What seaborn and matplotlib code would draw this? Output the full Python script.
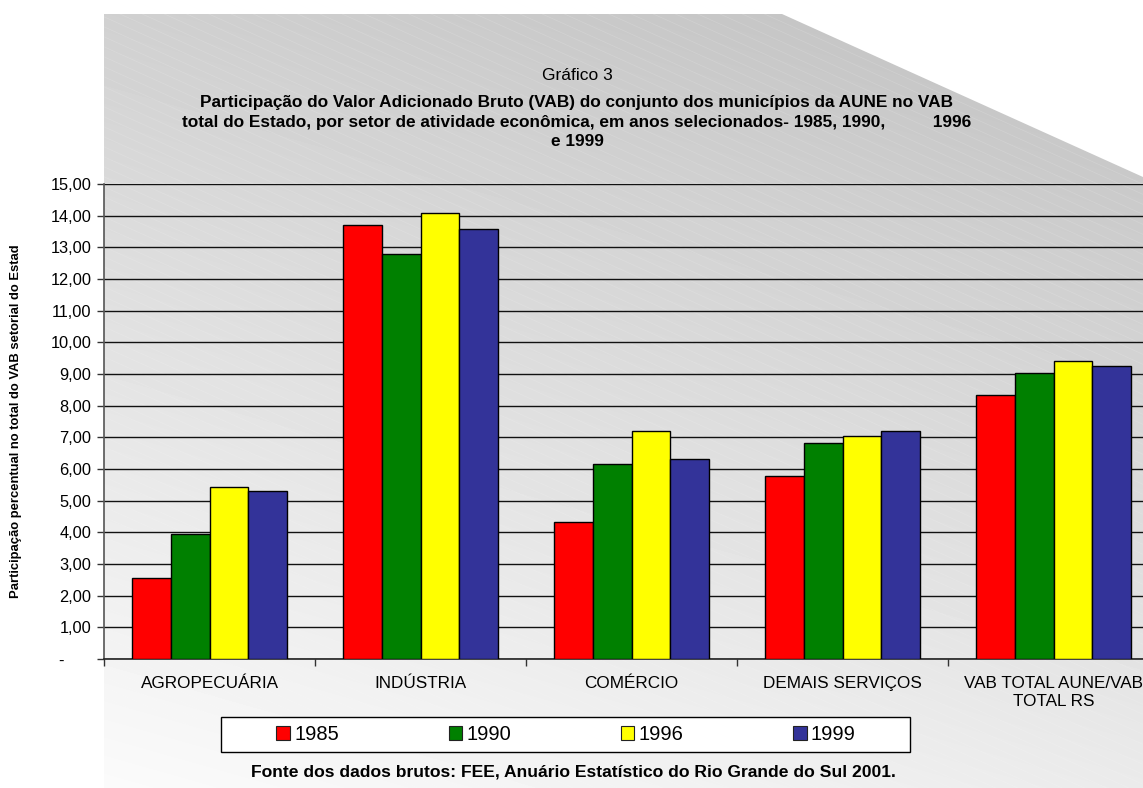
import numpy as np
import pandas as pd
import matplotlib
matplotlib.use("Agg")
import matplotlib.pyplot as plt
from matplotlib.patches import Polygon, Patch, Rectangle
import seaborn as sns

# ---- data -------------------------------------------------------------
setores = ["AGROPECUÁRIA", "INDÚSTRIA", "COMÉRCIO", "DEMAIS SERVIÇOS",
           "VAB TOTAL AUNE/VAB\nTOTAL RS"]
anos = ["1985", "1990", "1996", "1999"]
v1985 = [2.57, 13.70, 4.33, 5.77, 8.34]
v1990 = [3.95, 12.78, 6.16, 6.82, 9.02]
v1996 = [5.44, 14.07, 7.21, 7.03, 9.41]
v1999 = [5.31, 13.57, 6.31, 7.20, 9.24]
cores = ["#FF0000", "#008000", "#FFFF00", "#333399"]
yticks = list(range(0, 16))
# accounting-style zero: a dash set in from the right edge
ytick_labels = ["-      "] + [f"{v},00" for v in yticks[1:]]

df = pd.DataFrame({
    "setor": setores * 4,
    "ano": [a for a in anos for _ in setores],
    "valor": v1985 + v1990 + v1996 + v1999,
})

sns.set_theme(style="white")
plt.rcParams["font.family"] = ["Liberation Sans", "DejaVu Sans"]
plt.rcParams["text.color"] = "black"
plt.rcParams["axes.labelcolor"] = "black"
plt.rcParams["xtick.color"] = "black"
plt.rcParams["ytick.color"] = "black"

W, H = 1143, 788
fig = plt.figure(figsize=(W / 100, H / 100), dpi=100)
fig.patch.set_facecolor("white")

# ---- shaded chart-area background --------------------------------------
bg = fig.add_axes([0, 0, 1, 1], zorder=0)
bg.set_xlim(0, W)
bg.set_ylim(H, 0)
bg.axis("off")
yy, xx = np.mgrid[0:H, 0:W]
shade = 0.99 - 0.17 * (1 - yy / H) - 0.07 * (xx / W)
img = bg.imshow(shade, cmap="gray", vmin=0, vmax=1, extent=[0, W, H, 0],
                aspect="auto", interpolation="bilinear")
area = Polygon([(104, 14), (782, 14), (W, 177), (W, H), (104, H)],
               closed=True, facecolor="none", edgecolor="none")
bg.add_patch(area)
img.set_clip_path(area)
for c in np.arange(-600, H + 40, 10):
    ln, = bg.plot([0, W], [c, c + 0.45 * W], color="white", lw=0.5, alpha=0.16)
    ln.set_clip_path(area)

# ---- bars --------------------------------------------------------------
ax = fig.add_axes([104 / W, (H - 659) / H, (1159 - 104) / W, (659 - 184) / H],
                  zorder=1)
ax.patch.set_alpha(0)
sns.barplot(data=df, x="setor", y="valor", hue="ano", palette=cores,
            width=0.735, saturation=1, edgecolor="black", linewidth=1.0,
            legend=False, ax=ax, zorder=3)

ax.set_ylim(0, 15)
ax.set_xlim(-0.5, 4.5)
ax.set_yticks(yticks)
ax.set_yticklabels(ytick_labels, fontsize=11.8, color="black")
ax.tick_params(axis="y", direction="out", length=5, width=1, color="#333333",
               pad=4, left=True)
ax.set_xticks(range(len(setores)))
ax.set_xticklabels(setores, fontsize=12.3, color="black", linespacing=1.3)
ax.tick_params(axis="x", which="major", length=0, pad=12, bottom=False)
ax.set_xticks(np.arange(-0.5, len(setores), 1), minor=True)
ax.tick_params(axis="x", which="minor", direction="out", length=5, width=1,
               color="#333333", bottom=True)
ax.yaxis.grid(True, color="#111111", lw=1.0)
ax.set_axisbelow(True)
for s in ["top", "right"]:
    ax.spines[s].set_visible(False)
ax.spines["left"].set_color("#555555")
ax.spines["left"].set_linewidth(1.2)
ax.spines["bottom"].set_color("#222222")
ax.spines["bottom"].set_linewidth(1.2)
ax.set_xlabel("")
ax.set_ylabel("Participação percentual no total do VAB setorial do Estad",
              fontsize=9.4, fontweight="bold", color="black")
ax.yaxis.set_label_coords((22 - 104) / 1055, 0.5)

# ---- titles ------------------------------------------------------------
cx = 577 / W
fig.text(cx, 1 - 75 / H, "Gráfico 3", ha="center", va="center", fontsize=12.5,
         color="black")
titulo = [
    "Participação do Valor Adicionado Bruto (VAB) do conjunto dos municípios da AUNE no VAB",
    "total do Estado, por setor de atividade econômica, em anos selecionados- 1985, 1990,          1996",
    "e 1999",
]
for i, t in enumerate(titulo):
    fig.text(cx, 1 - (102 + 20 * i) / H, t, ha="center", va="center",
             fontsize=12.4, fontweight="bold", color="black")

# ---- legend ------------------------------------------------------------
box = Rectangle((221 / W, 1 - 752 / H), (910 - 221) / W, (752 - 717) / H,
                transform=fig.transFigure, facecolor="white",
                edgecolor="black", lw=1.0, zorder=2)
fig.patches.append(box)
handles = [Patch(facecolor=c, edgecolor="#222222", lw=0.8) for c in cores]
leg = fig.legend(handles, anos, loc="center",
                 bbox_to_anchor=(566 / W, 1 - 734.5 / H), ncol=4,
                 frameon=False, fontsize=14.5, handlelength=0.68,
                 handleheight=0.68, handletextpad=0.2, columnspacing=5.45,
                 labelcolor="black")
leg.set_zorder(3)

fig.text(573 / W, 1 - 772 / H,
         "Fonte dos dados brutos: FEE, Anuário Estatístico do Rio Grande do Sul 2001.",
         ha="center", va="center", fontsize=12.6, fontweight="bold",
         color="black")

fig.savefig("out.png", dpi=100)
